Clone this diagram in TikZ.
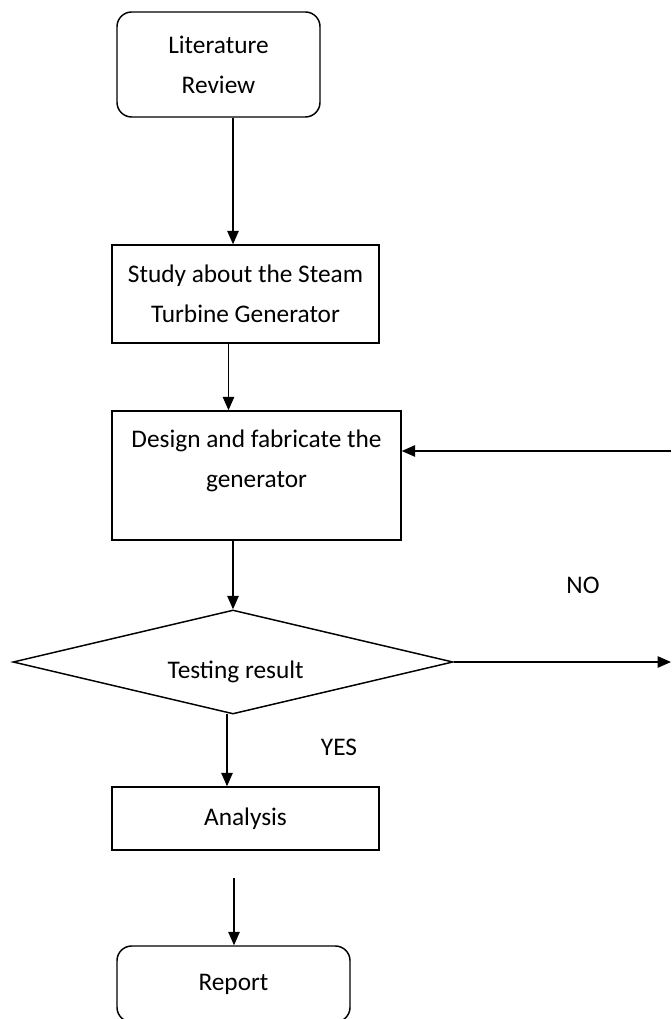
\documentclass[tikz,border=0pt]{standalone}
\usepackage{fontspec}
\setmainfont{Carlito}
\usetikzlibrary{arrows.meta, shapes.geometric}

\tikzset{
	box/.style = {draw, line width = 1.1pt, inner sep = 0pt, align = center},
	rbox/.style = {box, rounded corners = 11pt},
	arr/.style = {line width = 1.1pt, -{Triangle[length = 10pt, width = 8.5pt]}},
}

\begin{document}
\begin{tikzpicture}[x = 0.75pt, y = -0.75pt, font = \fontsize{19}{30}\selectfont]
	\useasboundingbox (0, 0) rectangle (671, 1019);

	\node[rbox, minimum width = 152.25pt, minimum height = 78.75pt] (lit) at (218.5, 64.5) {Literature\\Review};
	\node[box, minimum width = 200.25pt, minimum height = 73.5pt] (study) at (245.5, 294) {Study about the Steam\\Turbine Generator};
	\node[box, minimum width = 216.75pt, minimum height = 96.75pt,
		label = {[align = center, yshift = 11pt]center:Design and fabricate the\\generator}] (design) at (256.5, 475.5) {};
	\node[draw, diamond, line width = 1.1pt, inner sep = 0pt, minimum width = 330pt, minimum height = 78pt,
		label = {[yshift = -7.5pt, xshift = 2pt]center:Testing result}] (test) at (233, 662) {};
	\node[box, minimum width = 200.25pt, minimum height = 47.25pt] (ana) at (245.5, 818.5) {Analysis};
	\node[rbox, minimum width = 174.75pt, minimum height = 57pt] (rep) at (233.5, 984) {Report};

	\node (no) at (583, 585) {NO};
	\node (yes) at (339, 747) {YES};

	\coordinate (fb) at (671, 451);
	\coordinate (noend) at (671, 662);
	\coordinate (rs) at (234, 878);

	\draw[arr] (lit.south -| 233, 0) -- (study.north -| 233, 0);
	\draw[arr] (study.south -| 228.5, 0) -- (design.north -| 228.5, 0);
	\draw[arr] (fb) -- (fb -| design.east);
	\draw[arr] (design.south -| test.north) -- (test.north);
	\draw[arr] (test.east) -- (noend);
	\draw[arr] (227, 714) -- (ana.north -| 227, 0);
	\draw[arr] (rs) -- (rep.north -| rs);
\end{tikzpicture}
\end{document}
